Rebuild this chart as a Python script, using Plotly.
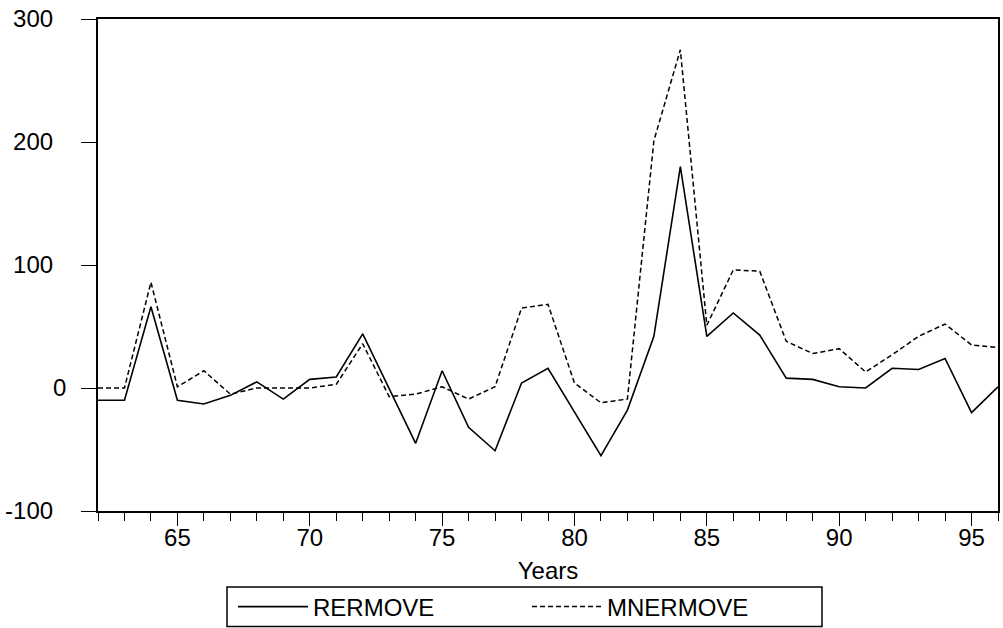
import plotly.graph_objects as go

years = list(range(62, 97))
rermove = [-10, -10, 66, -10, -13, -6, 5, -9, 7, 9,
           44, 0, -45, 14, -32, -51, 4, 16, -19, -55,
           -18, 42, 180, 42, 61, 43, 8, 7, 1, 0,
           16, 15, 24, -20, 1]
mnermove = [0, 0, 86, 1, 14, -5, 0, 0, 0, 3,
            36, -7, -5, 1, -9, 1, 65, 68, 4, -12,
            -9, 201, 275, 51, 96, 95, 38, 28, 32, 13,
            27, 42, 52, 35, 33]
y_ticks = [-100, 0, 100, 200, 300]
NB = "\u00a0\u00a0"
y_tick_text = ["-100" + NB, "0", "100" + NB, "200" + NB, "300" + NB]

FONT = "Liberation Sans, Arial, sans-serif"

fig = go.Figure()
fig.add_trace(go.Scatter(x=years, y=rermove, mode="lines", name="RERMOVE",
                         line=dict(color="black", width=1.6)))
fig.add_trace(go.Scatter(x=years, y=mnermove, mode="lines", name="MNERMOVE",
                         line=dict(color="black", width=1.5, dash="5px,3px")))

# legend frame (styling only)
fig.add_shape(type="rect", xref="paper", yref="paper",
              x0=(227 - 98) / 900, x1=(822 - 98) / 900,
              y0=(511 - 626.5) / 492, y1=(511 - 587) / 492,
              line=dict(color="black", width=1.5), fillcolor="rgba(0,0,0,0)",
              layer="above")

fig.update_layout(
    width=1003, height=628,
    margin=dict(l=98, r=5, t=19, b=117, autoexpand=False),
    paper_bgcolor="white", plot_bgcolor="white",
    font=dict(family=FONT, size=24, color="black"),
    showlegend=True,
    legend=dict(
        orientation="h",
        xref="container", yref="container",
        x=233/1003, y=1 - 607/628, xanchor="left", yanchor="middle",
        borderwidth=0, bgcolor="rgba(0,0,0,0)",
        font=dict(family=FONT, size=24, color="black"),
        entrywidth=209, entrywidthmode="pixels",
        itemwidth=70,
    ),
    xaxis=dict(
        range=[62, 96], tick0=0, dtick=5,
        showgrid=False, zeroline=False,
        showline=True, linecolor="black", linewidth=1.5, mirror=True,
        ticks="outside", ticklen=13, tickwidth=1.3, tickcolor="black",
        minor=dict(dtick=1, tick0=0, ticks="outside", ticklen=8, tickwidth=1.3, tickcolor="black"),
        tickfont=dict(family=FONT, size=24),
        ticklabelstandoff=-9,
        title=dict(text="Years", font=dict(family=FONT, size=24), standoff=22),
    ),
    yaxis=dict(
        range=[-100, 300], tickvals=y_ticks, ticktext=y_tick_text,
        showgrid=False, zeroline=False,
        showline=True, linecolor="black", linewidth=1.5, mirror=True,
        ticks="outside", ticklen=15, tickwidth=1.3, tickcolor="black",
        tickfont=dict(family=FONT, size=24),
        ticklabelstandoff=10,
    ),
)

fig.write_html("out.html")
